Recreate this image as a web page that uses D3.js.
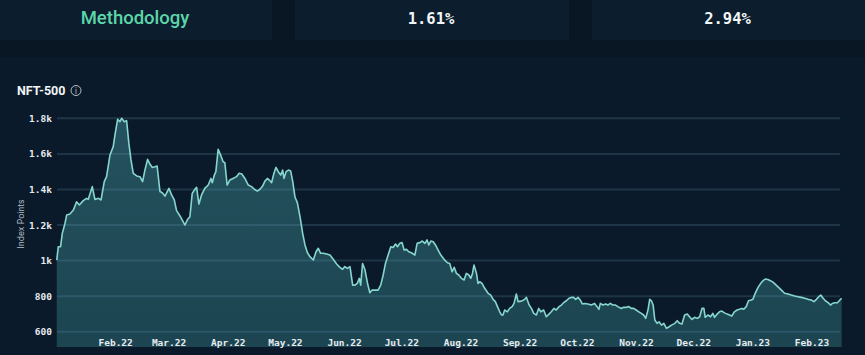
<!DOCTYPE html>
<html>
<head>
<meta charset="utf-8">
<script src="https://cdn.jsdelivr.net/npm/d3@7"></script>
<style>
  html, body { margin: 0; padding: 0; background: #091624; overflow: hidden; }
  svg { display: block; }
</style>
</head>
<body>
<div id="chart"></div>
<script>
const width = 865, height = 355;

// summary cards
const cardLabels = ["Methodology", "1.61%", "2.94%"];

// NFT-500 index, days since 2022-01-01 and index points
const dayOffsets = [
  0.4, 1.2, 2.4, 3.3, 4.7, 5.6, 7.3, 9.1, 10.8, 12.2, 14.3, 16, 16.9, 19, 20.4, 22.2, 23.6, 25.3, 26.5, 28.3,
  30, 30.9, 32.3, 33.5, 34.4, 35.8, 37, 38.2, 39.3, 40.5, 42.3, 44, 45.4, 46.6, 48, 49.2, 50.5, 51.9, 53, 54.5,
  55.7, 57.1, 59.2, 60.6, 62, 63.2, 65, 66.2, 67.6, 69, 70.2, 71.4, 72.8, 73.7, 74.9, 76.3, 78, 79.8, 81.2, 81.9,
  83, 83.8, 85, 86.3, 87.6, 88.5, 89.7, 91.1, 92.8, 94.6, 96, 97.4, 99, 100.8, 102.5, 104, 105.5, 106.9, 108.3, 109.5,
  110.8, 111.8, 113, 114.3, 115.3, 116.5, 117.8, 118.8, 119.5, 120.6, 121.8, 123, 124.1, 125.3, 126.5, 127.9, 129.3, 130.5, 131.8, 133.1,
  134.9, 136.3, 137.5, 138.7, 140.1, 141.8, 143.6, 145.3, 147.1, 148.8, 150.2, 151.4, 152.7, 154.1, 155.5, 156.7, 157.9, 159, 159.7, 160.7,
  161.9, 163.3, 164.5, 165.7, 167.1, 168.8, 170.2, 171.5, 172.7, 174.1, 175.5, 176.7, 178, 179, 180.2, 181.4, 182.5, 183.7, 184.9, 186.3,
  188.1, 189.3, 190.7, 192, 193.4, 194.5, 195.4, 196.5, 197.7, 198.9, 200.3, 201.7, 203.4, 205.2, 206.4, 207.6, 208.7, 209.9, 211.1, 212.5,
  213.9, 215.1, 216.4, 217.4, 218.3, 219.1, 220.4, 221.2, 222.1, 223.3, 224.7, 226.5, 227.9, 229.1, 230.3, 231.4, 232.6, 233.5, 234.3, 235.2,
  236.6, 237.8, 239.1, 240.1, 241.3, 242.2, 244, 245.4, 246.6, 248, 249.2, 250.4, 251.8, 253, 254.1, 255.6, 257, 258.4, 259.6, 261,
  262.2, 263.7, 264.9, 266.1, 267.5, 268.9, 270.1, 271.3, 272.4, 273.6, 274.8, 275.9, 277.1, 278.8, 280.6, 282.3, 283.6, 284.6, 285.3, 286.7,
  288.1, 289.3, 290.5, 291.9, 293.3, 294.5, 296.3, 297.5, 298.9, 300.3, 301.5, 302.8, 304.1, 305.5, 306.8, 308, 309.1, 310.3, 311.2, 312.1,
  313, 313.9, 315.1, 316.1, 317.4, 318.6, 320, 321.4, 322.6, 324.4, 325.6, 326.9, 328.1, 329.5, 330.9, 332.1, 333.4, 334.7, 336.1, 337.4,
  338.6, 339.6, 340.3, 341.7, 343.1, 344.3, 345.2, 346.6, 347.8, 349, 350.4, 351.8, 353, 354.2, 355.6, 357, 358.3, 359.5, 360.5, 361.8,
  363, 364.4, 365.3, 366.5, 368, 369.4, 370.6, 371.8, 373.1, 374.5, 375.8, 377.5, 379.3, 380.5, 381.9, 383.7, 385.4, 387.2, 388.9, 390.7,
  392.4, 394.2, 395.9, 397.3, 398.6, 399.8, 400.9, 402.1, 403.3, 404.7, 406.1, 406.9, 408.2, 409.6, 410.9, 411.8
];
const indexPoints = [
  1003, 1078, 1078, 1153, 1209, 1256, 1262, 1284, 1331, 1313, 1337, 1350, 1344, 1416, 1344, 1350, 1341, 1444, 1472, 1594,
  1641, 1706, 1794, 1781, 1800, 1781, 1787, 1659, 1566, 1491, 1476, 1472, 1444, 1509, 1569, 1543, 1524, 1528, 1532, 1388,
  1382, 1363, 1406, 1369, 1341, 1281, 1251, 1228, 1200, 1232, 1247, 1378, 1401, 1412, 1318, 1369, 1406, 1425, 1462, 1438,
  1481, 1500, 1626, 1594, 1556, 1551, 1425, 1453, 1462, 1472, 1491, 1487, 1462, 1425, 1416, 1401, 1391, 1401, 1419, 1447,
  1462, 1453, 1438, 1494, 1524, 1500, 1481, 1509, 1462, 1500, 1509, 1504, 1444, 1356, 1326, 1247, 1153, 1088, 1044, 1022,
  1003, 1050, 1069, 1041, 1041, 1037, 1031, 1007, 981, 962, 951, 966, 956, 966, 862, 862, 872, 900, 862, 984,
  950, 872, 819, 834, 834, 834, 862, 919, 984, 1031, 1078, 1074, 1093, 1078, 1097, 1101, 1059, 1063, 1050, 1044,
  1031, 1097, 1101, 1110, 1097, 1116, 1088, 1110, 1106, 1088, 1059, 1031, 1007, 988, 984, 937, 962, 928, 919, 900,
  891, 928, 919, 900, 928, 975, 928, 872, 881, 872, 844, 816, 806, 782, 769, 741, 712, 694, 694, 722,
  712, 731, 741, 759, 812, 769, 772, 780, 793, 750, 731, 703, 694, 731, 712, 722, 684, 699, 712, 731,
  722, 741, 750, 763, 774, 788, 793, 793, 782, 793, 778, 756, 759, 756, 750, 759, 741, 726, 759, 750,
  756, 750, 759, 750, 750, 741, 731, 737, 737, 741, 731, 731, 722, 712, 703, 694, 675, 722, 782, 774,
  750, 666, 647, 656, 637, 647, 619, 628, 637, 647, 662, 647, 643, 694, 699, 684, 669, 681, 675, 684,
  731, 731, 681, 694, 684, 703, 681, 699, 712, 716, 706, 699, 694, 688, 712, 722, 726, 731, 726, 741,
  774, 778, 782, 816, 849, 872, 887, 896, 894, 887, 879, 862, 844, 831, 816, 812, 806, 801, 797, 793,
  788, 782, 778, 769, 782, 797, 806, 788, 774, 763, 750, 759, 763, 763, 778, 788
];
const yTicks = [600, 800, 1000, 1200, 1400, 1600, 1800];
const monthLabels = ["Feb.22", "Mar.22", "Apr.22", "May.22", "Jun.22", "Jul.22", "Aug.22",
  "Sep.22", "Oct.22", "Nov.22", "Dec.22", "Jan.23", "Feb.23"];

const start = new Date(2022, 0, 1);
const data = dayOffsets.map((d, i) => ({
  date: new Date(start.getTime() + d * 864e5),
  value: indexPoints[i]
}));

const svg = d3.select("#chart").append("svg")
  .attr("width", width)
  .attr("height", height);

// top cards
const cards = [[0, 272], [295, 569], [592, 865]];
svg.selectAll("rect.card")
  .data(cards)
  .join("rect")
  .attr("class", "card")
  .attr("x", d => d[0])
  .attr("y", 0)
  .attr("width", d => d[1] - d[0])
  .attr("height", 40)
  .attr("fill", "#0c1d2e");

svg.selectAll("text.card")
  .data(cardLabels)
  .join("text")
  .attr("class", "card")
  .attr("x", (d, i) => i === 0 ? 135 : (cards[i][0] + cards[i][1]) / 2 - 1)
  .attr("y", 24)
  .attr("text-anchor", "middle")
  .attr("fill", (d, i) => i === 0 ? "#5cd6a9" : "#f2f5f7")
  .style("font-family", (d, i) => i === 0 ? "Roboto, sans-serif" : "'DejaVu Sans Mono', monospace")
  .style("font-weight", (d, i) => i === 0 ? 500 : 700)
  .style("font-size", (d, i) => i === 0 ? "18.5px" : "15.5px")
  .text(d => d);

// chart panel
svg.append("rect")
  .attr("x", 0).attr("y", 57)
  .attr("width", width).attr("height", height - 57)
  .attr("fill", "#0b1a2a");

svg.append("text")
  .attr("x", 17).attr("y", 95)
  .attr("fill", "#f2f5f7")
  .style("font-family", "Roboto, sans-serif")
  .style("font-weight", 700)
  .style("font-size", "12.5px")
  .text("NFT-500");

const info = svg.append("g").attr("transform", "translate(76,90.5)");
info.append("circle").attr("r", 5).attr("fill", "none").attr("stroke", "#b8c0c8").attr("stroke-width", 1);
info.append("text")
  .attr("y", 3).attr("text-anchor", "middle")
  .attr("fill", "#b8c0c8")
  .style("font-family", "Inter, sans-serif")
  .style("font-size", "8px")
  .text("i");

const x = d3.scaleTime()
  .domain([start, new Date(2023, 1, 17)])
  .range([56, 842]);
const y = d3.scaleLinear()
  .domain([514, 1875])
  .range([347, 105]);

const gradient = svg.append("defs").append("linearGradient")
  .attr("id", "fillGrad")
  .attr("x1", 0).attr("y1", 0).attr("x2", 0).attr("y2", 1);
gradient.append("stop").attr("offset", "0%").attr("stop-color", "#24525e");
gradient.append("stop").attr("offset", "100%").attr("stop-color", "#1c4451");

const area = d3.area()
  .x(d => x(d.date))
  .y0(y(514))
  .y1(d => y(d.value));

svg.append("path")
  .datum(data)
  .attr("d", area)
  .attr("fill", "url(#fillGrad)");

// gridlines
svg.append("g")
  .selectAll("line")
  .data(yTicks)
  .join("line")
  .attr("x1", 57).attr("x2", 840)
  .attr("y1", d => y(d)).attr("y2", d => y(d))
  .attr("stroke", "rgba(110,160,190,0.2)")
  .attr("stroke-width", 2);

const line = d3.line()
  .x(d => x(d.date))
  .y(d => y(d.value));

svg.append("path")
  .datum(data)
  .attr("d", line)
  .attr("fill", "none")
  .attr("stroke", "#86d6cf")
  .attr("stroke-width", 1.6)
  .attr("stroke-linejoin", "round");

// y axis
const yAxis = svg.append("g")
  .attr("transform", "translate(52,0)")
  .call(d3.axisLeft(y).tickValues(yTicks).tickSize(0).tickPadding(0)
    .tickFormat(d => d >= 1000 ? d3.format("~g")(d / 1000) + "k" : d));
yAxis.select(".domain").remove();
yAxis.selectAll("text")
  .attr("fill", "#e6ebef")
  .style("font-family", "'DejaVu Sans Mono', monospace")
  .style("font-weight", 700)
  .style("font-size", "9.5px");

// x axis
const months = d3.timeMonth.range(new Date(2022, 1, 1), new Date(2023, 1, 2));
const xAxis = svg.append("g")
  .attr("transform", "translate(0,339)")
  .call(d3.axisBottom(x).tickValues(months).tickSize(0).tickPadding(0)
    .tickFormat((d, i) => monthLabels[i]));
xAxis.select(".domain").remove();
xAxis.selectAll("text")
  .attr("fill", "#e6ebef")
  .style("font-family", "'DejaVu Sans Mono', monospace")
  .style("font-weight", 700)
  .style("font-size", "9.5px");

svg.append("text")
  .attr("transform", "translate(24,224) rotate(-90)")
  .attr("text-anchor", "middle")
  .attr("fill", "#b4bec8")
  .style("font-family", "Inter, sans-serif")
  .style("font-size", "8.5px")
  .text("Index Points");
</script>
</body>
</html>
